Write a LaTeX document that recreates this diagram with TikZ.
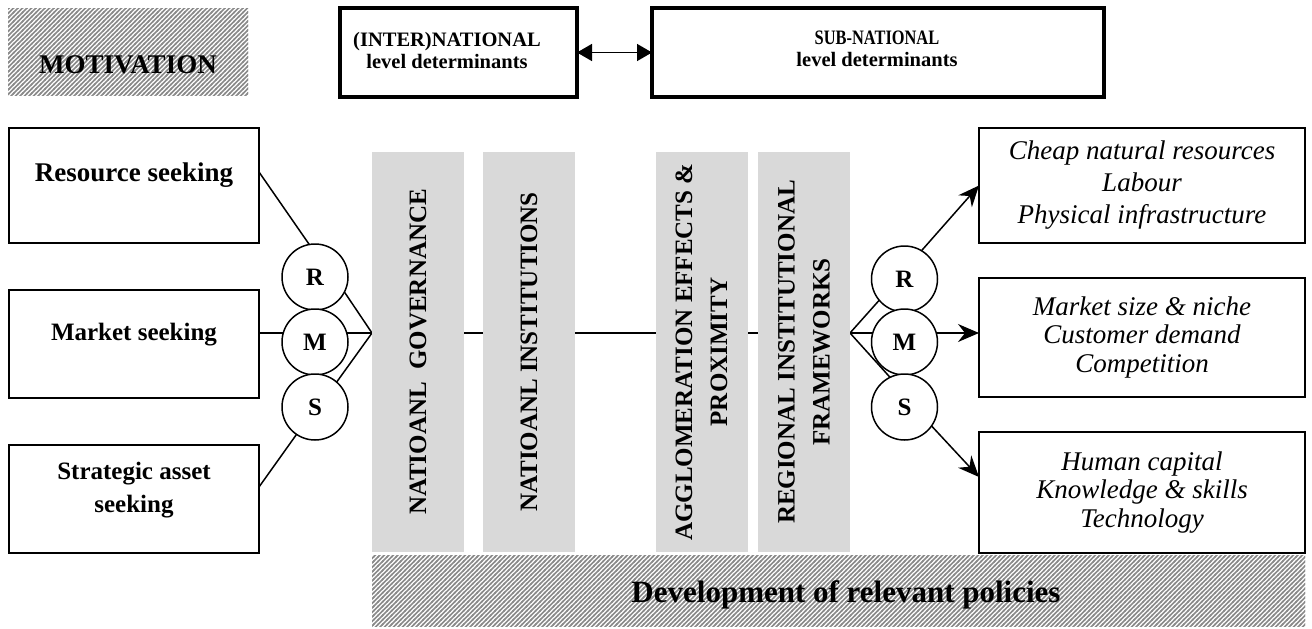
\documentclass[tikz,border=0pt]{standalone}
\usepackage{fontspec}
\setmainfont{Liberation Serif}
\usetikzlibrary{arrows.meta,patterns.meta,backgrounds,calc}

\definecolor{colgray}{HTML}{D9D9D9}
\definecolor{hatchgray}{HTML}{8A8A8A}

% diagonal hatching used for the two banner boxes
\tikzdeclarepattern{
  name=hatch,
  type=uncolored,
  bounding box={(-1pt,-1pt) and (5.5pt,5.5pt)},
  tile size={(4.5pt,4.5pt)},
  code={\draw[line width=1.5pt] (-1pt,-1pt) -- (5.5pt,5.5pt);}
}

\begin{document}
\begin{tikzpicture}[x=1pt,y=-1pt,
  every node/.style={inner sep=0pt,outer sep=0pt},
  thinbox/.style={draw,line width=1.8pt,fill=white},
  thickbox/.style={draw,line width=4.5pt,fill=white},
  column/.style={fill=colgray,rotate=90,minimum width=400pt,minimum height=92pt,
    align=center,font=\fontsize{25}{35}\selectfont\bfseries},
  ring/.style={circle,draw,line width=1.5pt,fill=white,minimum size=66pt,
    font=\fontsize{25}{30}\selectfont\bfseries},
  link/.style={line width=1.5pt},
  arr/.style={link,-{Stealth[length=21pt,width=18pt,inset=7pt]}},
  hatchbox/.style={pattern={hatch},pattern color=hatchgray},
  bigtxt/.style={font=\fontsize{27}{32}\selectfont\bfseries},
  midtxt/.style={font=\fontsize{25}{33}\selectfont\bfseries,align=center},
  toptxt/.style={font=\fontsize{20.5}{22}\selectfont\bfseries,align=center},
]
\useasboundingbox (0,0) rectangle (1312,629);

% banners with hatching
\node[hatchbox,minimum width=240pt,minimum height=87pt] (motiv) at (128,51.5) {};
\node[bigtxt,anchor=base] (motivT) at (128,73) {MOTIVATION};
\node[hatchbox,minimum width=933pt,minimum height=71pt] (policy) at (838.5,590.5) {};
\node[font=\fontsize{31}{36}\selectfont\bfseries,anchor=base] (policyT) at (846,602)
  {Development of relevant policies};

% level boxes at the top
\node[thickbox,minimum width=237pt,minimum height=89pt] (inter) at (458.5,52.5) {};
\node[toptxt] (interT) at (447,50) {(INTER)NATIONAL\\level determinants};
\node[thickbox,minimum width=452pt,minimum height=89pt] (sub) at (878,52.5) {};
\node[toptxt] (subT) at (877,49) {\scalebox{0.8}[1]{SUB-NATIONAL}\\level determinants};
\draw[line width=1.5pt,{Triangle[length=15pt,width=17pt]}-{Triangle[length=15pt,width=17pt]}]
  (inter.east) -- (sub.west);

% motivation boxes on the left
\node[thinbox,minimum width=250pt,minimum height=115pt] (res) at (134,185.5) {};
\node[bigtxt,anchor=base] (resT) at (134,181) {Resource seeking};
\node[thinbox,minimum width=250pt,minimum height=108pt] (mkt) at (134,344) {};
\node[midtxt,anchor=base] (mktT) at (134,340) {Market seeking};
\node[thinbox,minimum width=250pt,minimum height=108pt] (str) at (134,499) {};
\node[midtxt] (strT) at (134,490) {Strategic asset\\seeking};

% determinant columns
\node[column] (c1) at (418,352) {NATIOANL\ \ GOVERNANCE};
\node[column] (c2) at (529,352) {NATIOANL INSTITUTIONS};
\node[column] (c3) at (701.5,352) {AGGLOMERATION EFFECTS \&\\PROXIMITY};
\node[column] (c4) at (804,352) {REGIONAL INSTITUTIONAL\\FRAMEWORKS};

% location advantage boxes on the right
\node[thinbox,minimum width=326pt,minimum height=115pt,align=center,
  font=\fontsize{27}{32}\selectfont\itshape] (adv1) at (1142,185.5)
  {Cheap natural resources\\Labour\\Physical infrastructure};
\node[thinbox,minimum width=326pt,minimum height=119pt,align=center,
  font=\fontsize{27}{28.5}\selectfont\itshape] (adv2) at (1142,337.5)
  {Market size \& niche\\Customer demand\\Competition};
\node[thinbox,minimum width=326pt,minimum height=121pt,align=center,
  font=\fontsize{27}{28.5}\selectfont\itshape] (adv3) at (1142,492.5)
  {Human capital\\Knowledge \& skills\\Technology};

% motive circles
\node[ring] (R1) at (315,277) {R};
\node[ring] (M1) at (315,342) {M};
\node[ring] (S1) at (315,407) {S};
\node[ring] (R2) at (904.5,279) {R};
\node[ring] (M2) at (904.5,342) {M};
\node[ring] (S2) at (904.5,407) {S};

\coordinate (convL) at (372,333);
\coordinate (convR) at (850,333);

\begin{scope}[on background layer]
  % spine through the columns
  \draw[link] (convL) -- (convR);
  % left fan
  \draw[link] (res.east |- 0,172) -- (R1.100);
  \draw[link] (R1.-27) -- (convL);
  \draw[link] (mkt.east |- convL) -- (convL);
  \draw[link] (S1.49) -- (convL);
  \draw[link] (str.east |- 0,487) -- (S1.236);
  % right fan
  \draw[link] (convR) -- (R2.220);
  \draw[arr] (convR) -- (adv2.west |- convR);
  \draw[link] (convR) -- (S2.116);
  \draw[arr] (R2.59) -- (adv1.west);
  \draw[arr] (S2.-35) -- ([yshift=15.5pt]adv3.west);
\end{scope}
\end{tikzpicture}
\end{document}
